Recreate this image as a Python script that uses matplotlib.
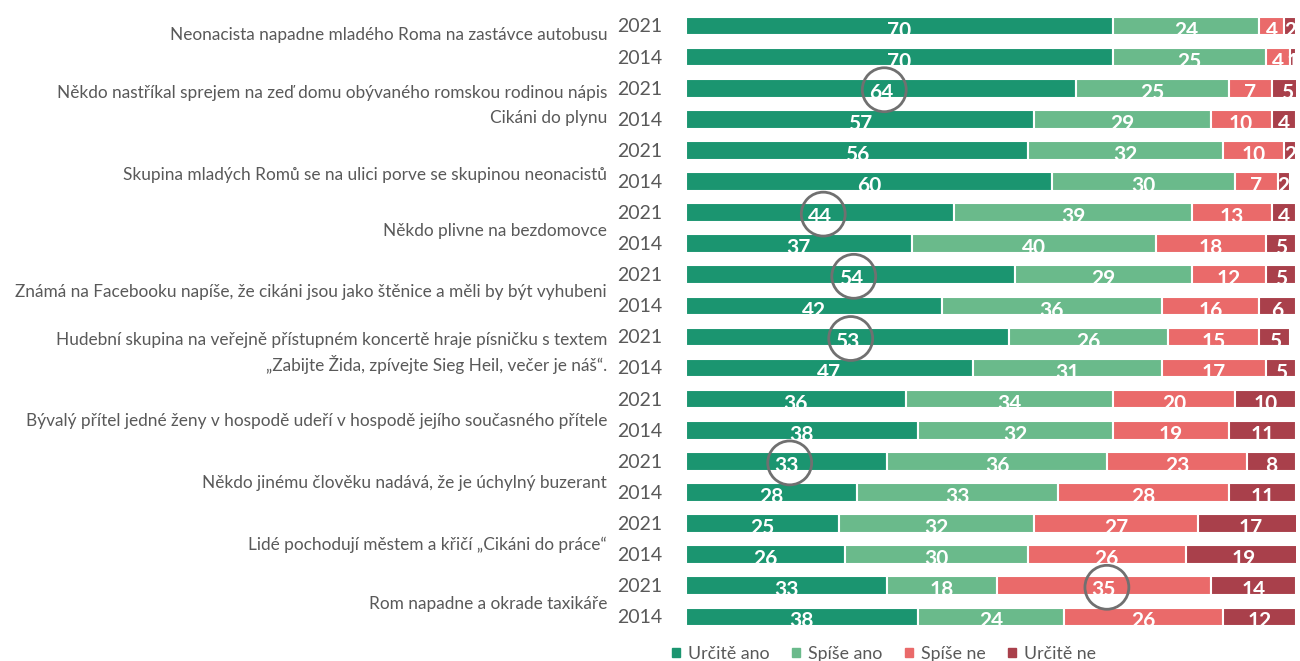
import matplotlib.pyplot as plt
from matplotlib.patches import Patch
import numpy as np

plt.rcParams['font.family'] = ['Lato', 'DejaVu Sans']

# === Données ===
items = [
    ["Neonacista napadne mladého Roma na zastávce autobusu"],
    ["Někdo nastříkal sprejem na zeď domu obývaného romskou rodinou nápis",
     "Cikáni do plynu"],
    ["Skupina mladých Romů se na ulici porve se skupinou neonacistů"],
    ["Někdo plivne na bezdomovce"],
    ["Známá na Facebooku napíše, že cikáni jsou jako štěnice a měli by být vyhubeni"],
    ["Hudební skupina na veřejně přístupném koncertě hraje písničku s textem",
     "„Zabijte Žida, zpívejte Sieg Heil, večer je náš“."],
    ["Bývalý přítel jedné ženy v hospodě udeří v hospodě jejího současného přítele"],
    ["Někdo jinému člověku nadává, že je úchylný buzerant"],
    ["Lidé pochodují městem a křičí „Cikáni do práce“"],
    ["Rom napadne a okrade taxikáře"],
]
years = ["2021", "2014"]

# une ligne par (item, année), de haut en bas
urcite_ano = [70, 70, 64, 57, 56, 60, 44, 37, 54, 42, 53, 47, 36, 38, 33, 28, 25, 26, 33, 38]
spise_ano  = [24, 25, 25, 29, 32, 30, 39, 40, 29, 36, 26, 31, 34, 32, 36, 33, 32, 30, 18, 24]
spise_ne   = [4, 4, 7, 10, 10, 7, 13, 18, 12, 16, 15, 17, 20, 19, 23, 28, 27, 26, 35, 26]
urcite_ne  = [2, 1, 5, 4, 2, 2, 4, 5, 5, 6, 5, 5, 10, 11, 8, 11, 17, 19, 14, 12]

series = ["Určitě ano", "Spíše ano", "Spíše ne", "Určitě ne"]
colors = ["#1b9570", "#6aba8b", "#ea6a6a", "#a9404b"]

# valeurs entourées : (ligne, série)
circled = [(2, 0), (6, 0), (8, 0), (10, 0), (14, 0), (18, 2)]

# position verticale des libellés (décalage depuis la ligne 2021, par ligne de texte)
label_pos = [[0.3], [0.15, 0.97], [0.8], [0.6], [0.55], [0.1, 0.9],
             [0.7], [0.7], [0.7], [0.6]]

data = np.array([urcite_ano, spise_ano, spise_ne, urcite_ne])
n = data.shape[1]
y = np.arange(n)

fig = plt.figure(figsize=(13, 6.61), dpi=100)
ax = fig.add_axes([686 / 1300, 1 - 633 / 661, 610 / 1300, 623 / 661])

left = np.zeros(n)
for k in range(4):
    ax.barh(y, data[k], left=left, height=0.6, color=colors[k],
            edgecolor="white", linewidth=1.5, label=series[k])
    for i in range(n):
        ax.text(left[i] + data[k][i] / 2, y[i] + 0.15, str(data[k][i]),
                ha="center", va="center", color="white", fontsize=15,
                fontweight="bold", clip_on=True)
    left += data[k]

# cercles
starts = np.vstack([np.zeros(n), np.cumsum(data, axis=0)[:-1]])
cx = [starts[k][i] + data[k][i] / 2 + 0.5 for i, k in circled]
cy = [i + 0.05 for i, k in circled]
ax.scatter(cx, cy, s=1000, facecolors="none", edgecolors="#707070",
           linewidths=2, zorder=5, clip_on=False)

ax.set_xlim(0, 100)
ax.set_ylim(19.52, -0.514)
ax.axis("off")

# étiquettes
for i in range(n):
    ax.text(-3.9, y[i] + 0.03, years[i % 2], ha="right", va="center",
            fontsize=14, color="#595959")
for j, lines in enumerate(items):
    for line, f in zip(lines, label_pos[j]):
        ax.text(-12.95, 2 * j + f, line, ha="right", va="center",
                fontsize=12.4, color="#595959")

handles = [Patch(color=c, label=s) for c, s in zip(colors, series)]
fig.legend(handles=handles, loc="center", bbox_to_anchor=(884 / 1300, 1 - 654 / 661),
           ncol=4, frameon=False, fontsize=12.8, handlelength=0.45, handleheight=0.45,
           handletextpad=0.45, columnspacing=1.25, labelcolor="#595959")

plt.savefig("out.png", dpi=100)
